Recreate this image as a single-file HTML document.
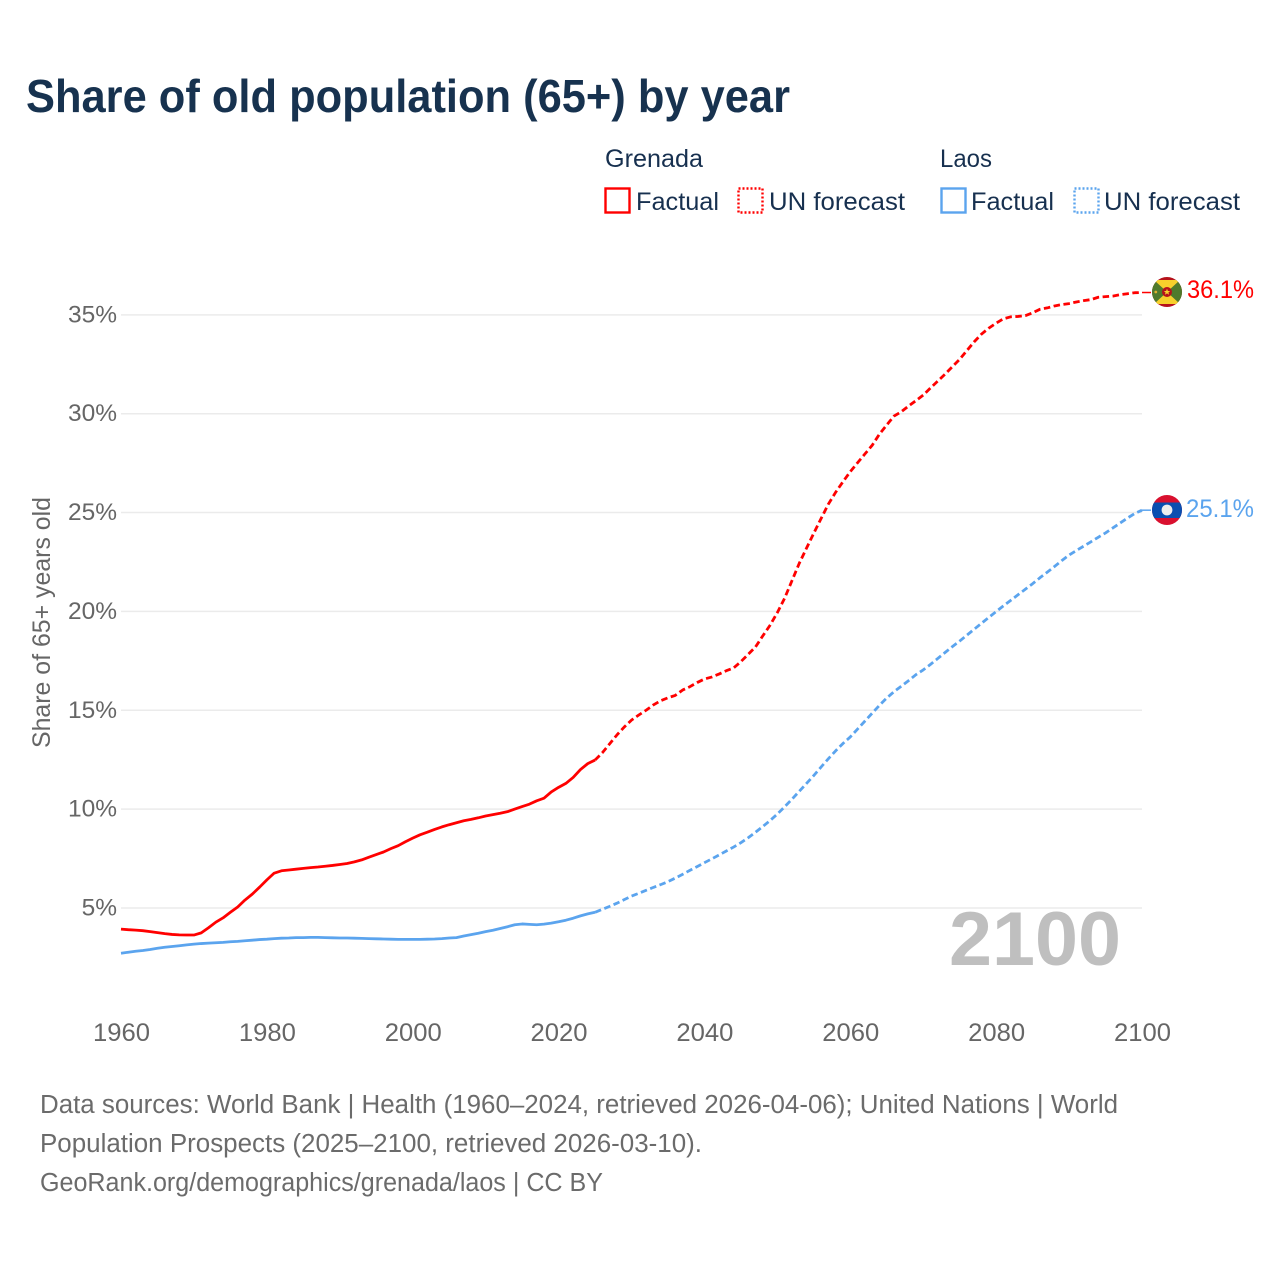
<!DOCTYPE html>
<html lang="en">
<head>
<meta charset="utf-8">
<title>Share of old population (65+) by year</title>
<style>
html,body{margin:0;padding:0;background:#fff;}
svg{display:block;font-family:"Liberation Sans",sans-serif;}
</style>
</head>
<body>
<svg id="chart" xmlns="http://www.w3.org/2000/svg" width="1280" height="1280" viewBox="0 0 1280 1280">
  <rect x="0" y="0" width="1280" height="1280" fill="#ffffff"/>
  <text x="26" y="112" font-size="46" font-weight="700" fill="#17324f" textLength="764" lengthAdjust="spacingAndGlyphs">Share of old population (65+) by year</text>

  <g font-size="25" fill="#17304f">
    <text x="605" y="167" textLength="98" lengthAdjust="spacingAndGlyphs">Grenada</text>
    <rect x="605.5" y="188.5" width="24" height="24" fill="none" stroke="#ff0000" stroke-width="2.4"/>
    <text x="636" y="210" textLength="83" lengthAdjust="spacingAndGlyphs">Factual</text>
    <rect x="738.5" y="188.5" width="24" height="24" fill="none" stroke="#ff0000" stroke-width="2.4" stroke-dasharray="2 2"/>
    <text x="769" y="210" textLength="136" lengthAdjust="spacingAndGlyphs">UN forecast</text>
    <text x="940" y="167" textLength="52" lengthAdjust="spacingAndGlyphs">Laos</text>
    <rect x="941.5" y="188.5" width="24" height="24" fill="none" stroke="#5ba4ee" stroke-width="2.4"/>
    <text x="971" y="210" textLength="83" lengthAdjust="spacingAndGlyphs">Factual</text>
    <rect x="1074.5" y="188.5" width="24" height="24" fill="none" stroke="#5ba4ee" stroke-width="2.4" stroke-dasharray="2 2"/>
    <text x="1104" y="210" textLength="136" lengthAdjust="spacingAndGlyphs">UN forecast</text>
  </g>

  <g id="grid"></g>
  <g id="y-ticks"></g>
  <g id="x-ticks"></g>
  <text transform="translate(50,748) rotate(-90)" font-size="25" fill="#666666" textLength="251" lengthAdjust="spacingAndGlyphs">Share of 65+ years old</text>
  <text x="949" y="965" font-size="76" font-weight="700" fill="#bfbfbf" textLength="172" lengthAdjust="spacingAndGlyphs">2100</text>
  <g id="series"></g>

  <defs>
    <clipPath id="clip-gd"><circle cx="1167" cy="292" r="15"/></clipPath>
    <clipPath id="clip-la"><circle cx="1167" cy="510" r="15"/></clipPath>
  </defs>
  <g clip-path="url(#clip-gd)">
    <rect x="1152" y="277" width="30" height="30" fill="#b5121b"/>
    <rect x="1152" y="280" width="30" height="24" fill="#4f7a2c"/>
    <polygon points="1154,280 1180,280 1167,292" fill="#f7d02c"/>
    <polygon points="1154,304 1180,304 1167,292" fill="#f7d02c"/>
    <circle cx="1167" cy="292" r="5" fill="#b5121b"/>
    <polygon points="1167,288.8 1167.9,291 1170.2,291 1168.4,292.5 1169.1,294.8 1167,293.4 1164.9,294.8 1165.6,292.5 1163.8,291 1166.1,291" fill="#f7d02c"/>
    <circle cx="1155.8" cy="292" r="1.4" fill="#e0b030"/>
  </g>
  <g clip-path="url(#clip-la)">
    <rect x="1152" y="495" width="30" height="30" fill="#d9102f"/>
    <rect x="1152" y="502.5" width="30" height="15.5" fill="#0a4fb0"/>
    <circle cx="1167" cy="510" r="5.4" fill="#eeeeee"/>
  </g>
  <text x="1187" y="298" font-size="25" fill="#ff0000" textLength="67" lengthAdjust="spacingAndGlyphs">36.1%</text>
  <text x="1186" y="517" font-size="25" fill="#5ba4ee" textLength="68" lengthAdjust="spacingAndGlyphs">25.1%</text>

  <g font-size="25.5" fill="#6b6b6b">
    <text x="40" y="1113" textLength="1078" lengthAdjust="spacingAndGlyphs">Data sources: World Bank | Health (1960–2024, retrieved 2026-04-06); United Nations | World</text>
    <text x="40" y="1152" textLength="662" lengthAdjust="spacingAndGlyphs">Population Prospects (2025–2100, retrieved 2026-03-10).</text>
    <text x="40" y="1191" textLength="563" lengthAdjust="spacingAndGlyphs">GeoRank.org/demographics/grenada/laos | CC BY</text>
  </g>
</svg>
<script>
const yTicks = [5, 10, 15, 20, 25, 30, 35];
const xTicks = [1960, 1980, 2000, 2020, 2040, 2060, 2080, 2100];
const factualStart = 1960;
const forecastStart = 2025;
const grenadaFactual = [
  3.93,3.90,3.88,3.85,3.80,3.75,3.70,3.66,3.64,3.63,
  3.63,3.74,4.00,4.28,4.50,4.78,5.05,5.40,5.70,6.05,
  6.42,6.76,6.88,6.92,6.96,7.00,7.04,7.07,7.11,7.15,
  7.20,7.25,7.33,7.43,7.57,7.70,7.83,8.00,8.15,8.35,
  8.53,8.70,8.83,8.97,9.10,9.21,9.31,9.41,9.48,9.56,
  9.65,9.72,9.79,9.87,10.00,10.13,10.25,10.42,10.55,10.87,
  11.10,11.30,11.60,12.00,12.30,12.48
];
const grenadaForecast = [
  12.48,12.85,13.30,13.75,14.15,
  14.50,14.76,15.00,15.27,15.48,15.63,15.75,16.02,16.19,16.40,
  16.58,16.68,16.83,17.00,17.14,17.46,17.83,18.20,18.76,19.30,
  19.94,20.67,21.55,22.43,23.20,23.96,24.70,25.43,26.03,26.56,
  27.07,27.52,27.96,28.40,28.97,29.43,29.88,30.10,30.39,30.66,
  30.94,31.30,31.65,32.00,32.38,32.75,33.20,33.64,34.03,34.33,
  34.58,34.80,34.90,34.92,34.96,35.10,35.28,35.35,35.45,35.52,
  35.57,35.65,35.72,35.77,35.89,35.92,35.95,36.02,36.07,36.12,
  36.13
];
const laosFactual = [
  2.71,2.76,2.81,2.85,2.90,2.96,3.01,3.05,3.09,3.13,
  3.17,3.20,3.22,3.24,3.26,3.29,3.31,3.34,3.37,3.40,
  3.42,3.45,3.47,3.48,3.50,3.50,3.51,3.51,3.50,3.49,
  3.48,3.48,3.47,3.46,3.45,3.44,3.43,3.42,3.41,3.41,
  3.41,3.41,3.42,3.43,3.45,3.48,3.50,3.58,3.65,3.72,
  3.80,3.87,3.96,4.05,4.15,4.19,4.17,4.15,4.18,4.23,
  4.30,4.38,4.48,4.60,4.70,4.78
];
const laosForecast = [
  4.78,4.93,5.08,5.24,5.42,
  5.60,5.74,5.89,6.04,6.18,6.33,6.51,6.70,6.90,7.09,
  7.29,7.48,7.68,7.88,8.08,8.30,8.55,8.83,9.12,9.42,
  9.75,10.12,10.50,10.90,11.30,11.70,12.13,12.55,12.95,13.32,
  13.65,14.05,14.45,14.85,15.25,15.62,15.94,16.22,16.50,16.80,
  17.04,17.32,17.62,17.92,18.22,18.50,18.80,19.10,19.40,19.70,
  19.99,20.28,20.56,20.84,21.12,21.40,21.70,21.98,22.27,22.57,
  22.85,23.08,23.30,23.52,23.75,23.97,24.22,24.47,24.72,24.95,
  25.12
];

const NS = 'http://www.w3.org/2000/svg';
const xScale = function (year) { return 121 + (year - 1960) * (1142 - 121) / 140; };
const yScale = function (pct) { return 1006.8 - pct * 19.77; };

function svgEl(tag, parentId) {
  const el = document.createElementNS(NS, tag);
  document.getElementById(parentId).appendChild(el);
  return el;
}

yTicks.forEach(function (t) {
  const line = svgEl('line', 'grid');
  
  
  line.setAttribute('x1', 121);
  line.setAttribute('x2', 1142);
  line.setAttribute('y1', yScale(t));
  line.setAttribute('y2', yScale(t));
  line.setAttribute('stroke', '#ebebeb');
  line.setAttribute('stroke-width', 1.5);

  const label = svgEl('text', 'y-ticks');
  
  
  label.setAttribute('x', 117);
  label.setAttribute('y', yScale(t) + 7.5);
  label.setAttribute('text-anchor', 'end');
  label.setAttribute('font-size', 24.5);
  label.setAttribute('fill', '#666666');
  label.textContent = t + '%';
});

xTicks.forEach(function (t) {
  const label = svgEl('text', 'x-ticks');
  
  
  label.setAttribute('x', xScale(t) + 0.5);
  label.setAttribute('y', 1041);
  label.setAttribute('text-anchor', 'middle');
  label.setAttribute('font-size', 25);
  label.setAttribute('fill', '#666666');
  label.setAttribute('textLength', 57);
  label.setAttribute('lengthAdjust', 'spacingAndGlyphs');
  label.textContent = t;
});

function pathFrom(values, startYear) {
  return values.map(function (v, i) {
    return (i ? 'L' : 'M') + xScale(startYear + i).toFixed(2) + ' ' + yScale(v).toFixed(2);
  }).join(' ');
}

function drawLine(values, startYear, color, dashed, name) {
  const p = svgEl('path', 'series');
  
  
  p.setAttribute('d', pathFrom(values, startYear));
  p.setAttribute('fill', 'none');
  p.setAttribute('stroke', color);
  p.setAttribute('stroke-width', 2.8);
  p.setAttribute('stroke-linejoin', 'round');
  if (dashed) p.setAttribute('stroke-dasharray', '6.5 3.5');
}

function drawConnector(lastValue, color, name) {
  const c = svgEl('line', 'series');
  
  
  c.setAttribute('x1', xScale(2100));
  c.setAttribute('x2', xScale(2100) + 9);
  c.setAttribute('y1', yScale(lastValue));
  c.setAttribute('y2', yScale(lastValue));
  c.setAttribute('stroke', color);
  c.setAttribute('stroke-width', 1.5);
}

drawLine(laosFactual, factualStart, '#5ba4ee', false, 'laos-factual-line');
drawLine(laosForecast, forecastStart, '#5ba4ee', true, 'laos-forecast-line');
drawConnector(laosForecast[laosForecast.length - 1], '#5ba4ee', 'laos-label-connector');
drawLine(grenadaFactual, factualStart, '#ff0000', false, 'grenada-factual-line');
drawLine(grenadaForecast, forecastStart, '#ff0000', true, 'grenada-forecast-line');
drawConnector(grenadaForecast[grenadaForecast.length - 1], '#ff0000', 'grenada-label-connector');
</script>
</body>
</html>
